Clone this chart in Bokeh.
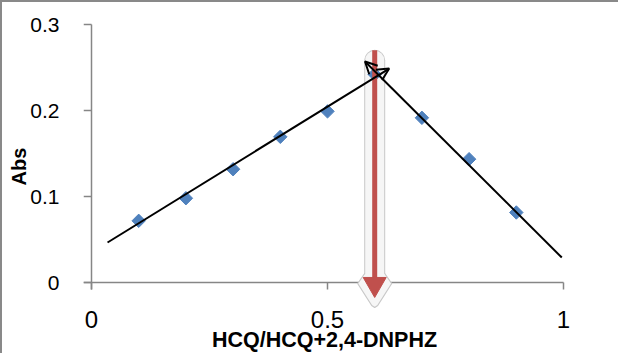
import math
from bokeh.plotting import figure
from bokeh.models import ColumnDataSource, Arrow, OpenHead, FixedTicker
from bokeh.embed import file_html
from bokeh.resources import INLINE

# --- data ---
mole_ratio = [0.1, 0.2, 0.3, 0.4, 0.5, 0.6, 0.7, 0.8, 0.9]
absorbance = [0.0717, 0.098, 0.1317, 0.1694, 0.199, 0.242, 0.1915, 0.1434, 0.0814]

x_ticks = [0, 0.5, 1]
x_tick_labels = ["0", "0.5", "1"]
y_ticks = [0, 0.1, 0.2, 0.3]
y_tick_labels = ["0", "0.1", "0.2", "0.3"]

# hand-drawn trend lines (start x, start y, end x, end y)
rise_line = [0.034, 0.0465, 0.6307, 0.2488]
fall_line = [0.9964, 0.029, 0.5794, 0.257]
# red arrow marking the ratio at maximum
stoich_x = 0.6
stoich_top = 0.27
stoich_tip = -0.0174

BLUE = "#4F81BD"
RED = "#C0504D"
AXIS = "#868686"

PX_PER_X = 472.0      # px per x unit
PX_PER_Y = 860.0      # px per y unit
def dx(px):
    return px / PX_PER_X
def dy(px):
    return px / PX_PER_Y

X_MIN, X_MAX = x_ticks[0], x_ticks[-1]
Y_MIN, Y_MAX = y_ticks[0], y_ticks[-1]

# plot area reaches a little beyond the axes so the arrow tip below the x-axis is drawn
p = figure(width=618, height=353,
           x_range=(X_MIN - dx(8), X_MAX + dx(2)), y_range=(Y_MIN - dy(28), Y_MAX + dy(2)),
           output_backend="svg", toolbar_location=None,
           min_border_left=81, min_border_right=55,
           min_border_top=20, min_border_bottom=45)
p.styles = {"border-top": "2px solid #898989", "border-left": "2px solid #898989",
            "margin-bottom": "-8px"}
p.grid.visible = False
p.outline_line_color = None
p.background_fill_color = "white"
p.border_fill_color = "white"

# axes: labels from Bokeh axes, lines/ticks drawn at the data origin
for ax in (p.xaxis[0], p.yaxis[0]):
    ax.axis_line_color = None
    ax.major_tick_line_color = None
    ax.minor_tick_line_color = None
    ax.major_tick_in = 0
    ax.major_tick_out = 0
    ax.major_label_text_font = "Liberation Sans"
    ax.major_label_text_color = "black"
    ax.axis_label_text_font = "Liberation Sans"
    ax.axis_label_text_font_style = "bold"
    ax.axis_label_text_color = "black"

p.xaxis.ticker = FixedTicker(ticks=x_ticks)
p.xaxis.major_label_overrides = dict(zip(x_ticks, x_tick_labels))
p.xaxis.major_label_standoff = 0
p.xaxis.major_label_text_font_size = "24px"
p.xaxis.axis_label = "HCQ/HCQ+2,4-DNPHZ"
p.xaxis.axis_label_text_font_size = "21.5px"
p.xaxis.axis_label_standoff = -3

p.yaxis.ticker = FixedTicker(ticks=y_ticks)
p.yaxis.major_label_overrides = dict(zip(y_ticks, y_tick_labels))
p.yaxis.major_label_standoff = 24
p.yaxis.major_label_text_font_size = "21px"
p.yaxis.axis_label = "Abs"
p.yaxis.axis_label_text_font_size = "20px"
p.yaxis.axis_label_standoff = -3

# axis lines and tick marks
p.segment(x0=[X_MIN - dx(8), X_MIN], y0=[Y_MIN, Y_MIN - dy(7)],
          x1=[X_MAX, X_MIN], y1=[Y_MIN, Y_MAX],
          line_color=AXIS, line_width=1.5)
p.segment(x0=x_ticks, y0=[Y_MIN] * len(x_ticks), x1=x_ticks, y1=[Y_MIN - dy(7)] * len(x_ticks),
          line_color=AXIS, line_width=1.5)
p.segment(x0=[X_MIN - dx(8)] * len(y_ticks), y0=y_ticks, x1=[X_MIN] * len(y_ticks), y1=y_ticks,
          line_color=AXIS, line_width=1.5)

# --- glow behind the red arrow ---
glow_top = stoich_top - dy(10)
glow_neck = Y_MIN + dy(9)
p.segment(x0=[stoich_x], y0=[glow_top], x1=[stoich_x], y1=[glow_neck - dy(2)],
          line_color="#c8c8c8", line_width=21, line_cap="round")
p.patch(x=[stoich_x - dx(10), stoich_x - dx(17), stoich_x - dx(3), stoich_x, stoich_x + dx(3),
           stoich_x + dx(17), stoich_x + dx(10)],
        y=[glow_neck, Y_MIN - dy(1), stoich_tip - dy(8), stoich_tip - dy(10), stoich_tip - dy(8),
           Y_MIN - dy(1), glow_neck],
        fill_color="#f6f6f6", line_color="#c8c8c8", line_width=1.2, line_join="round")
p.segment(x0=[stoich_x], y0=[glow_top], x1=[stoich_x], y1=[glow_neck - dy(3)],
          line_color="#f6f6f6", line_width=19, line_cap="round")

# --- data points ---
src = ColumnDataSource(data=dict(x=mole_ratio, y=absorbance))
p.scatter("x", "y", source=src, marker="square", size=9.5, angle=math.pi / 4,
          fill_color=BLUE, line_color=BLUE)

# --- red arrow ---
red_base = stoich_tip + dy(20)
p.segment(x0=[stoich_x], y0=[stoich_top], x1=[stoich_x], y1=[red_base - dy(1)],
          line_color=RED, line_width=5)
p.patch(x=[stoich_x - dx(11.5), stoich_x + dx(11.5), stoich_x],
        y=[red_base, red_base, stoich_tip],
        fill_color=RED, line_color=RED, line_width=1)

# --- black trend lines with open arrowheads ---
for seg in (rise_line, fall_line):
    arr = Arrow(x_start=seg[0], y_start=seg[1], x_end=seg[2], y_end=seg[3],
                line_color="black", line_width=2,
                end=OpenHead(size=12, line_color="black", line_width=2))
    p.add_layout(arr)

open("out.html", "w").write(file_html(p, INLINE))
